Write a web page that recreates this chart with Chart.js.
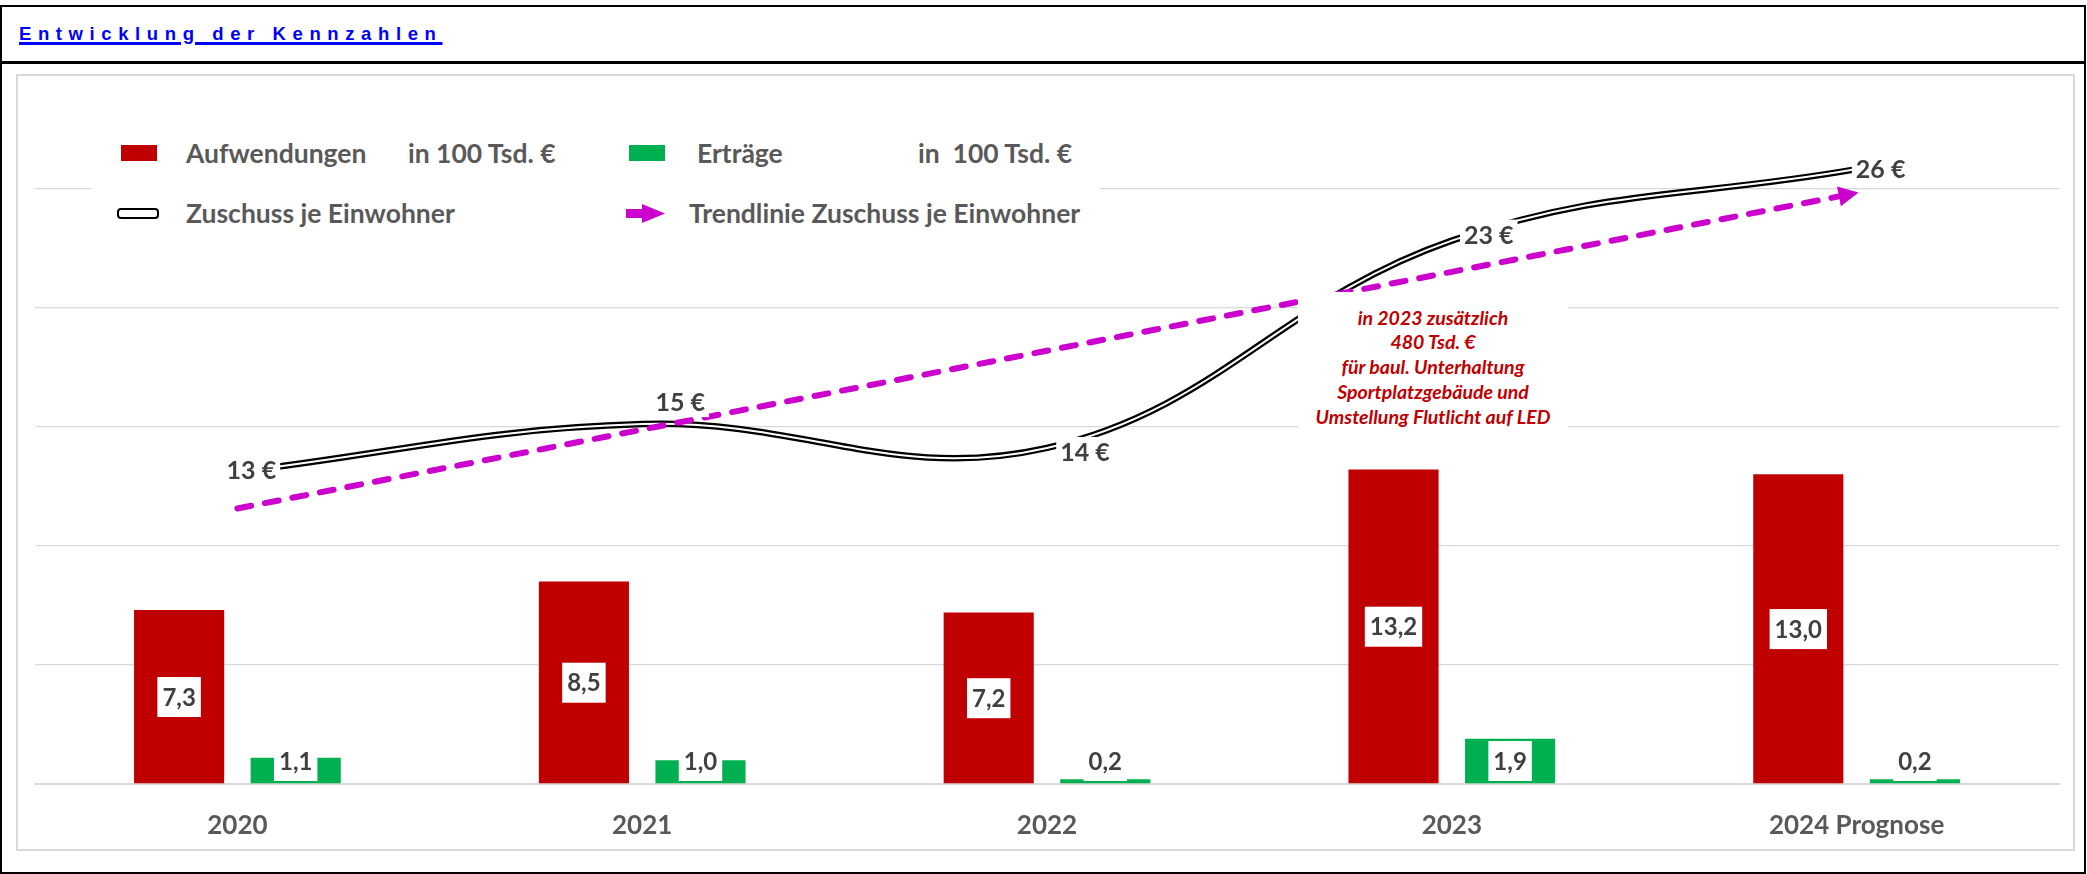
<!DOCTYPE html>
<html lang="de">
<head>
<meta charset="utf-8">
<title>Entwicklung der Kennzahlen</title>
<script src="https://cdn.jsdelivr.net/npm/chart.js@4.4.1/dist/chart.umd.min.js"></script>
<style>
    html, body { margin: 0; padding: 0; background: #fff; }
    body { width: 2087px; height: 874px; position: relative; overflow: hidden; font-family: Lato, "Open Sans", sans-serif; }
    .rahmen { position: absolute; left: 0; top: 5px; width: 2086px; height: 869px; box-sizing: border-box; border: 2px solid #000; }
    .trenner { position: absolute; left: 0; top: 61px; width: 2086px; height: 3px; background: #000; }
    .titel { position: absolute; left: 19px; top: 24px; font: bold 18.5px/20px "Liberation Sans", Arial, sans-serif; letter-spacing: 6.6px;
             color: #0000ff; text-decoration: underline; text-decoration-thickness: 2.7px; text-underline-offset: 2.3px; white-space: nowrap; }
    .diagrammrahmen { position: absolute; left: 16px; top: 74px; width: 2059px; height: 777px; box-sizing: border-box; border: 2px solid #d9d9d9; }
    #wrap { position: absolute; left: 0; top: 0; width: 2087px; height: 874px; }
    .legende { position: absolute; left: 91px; top: 108px; width: 1009px; height: 135px; background: #fff; }
    .lg { position: absolute; font-weight: bold; font-size: 26.5px; line-height: 30px; color: #595959; white-space: pre; }
    .key { position: absolute; box-sizing: border-box; }
    .doppel { border: 2.5px solid #000; border-radius: 4px; background: #fff; }
    .hinweis { position: absolute; left: 1298px; top: 292px; width: 270px; height: 140px; box-sizing: border-box; padding-top: 13.5px;
               background: #fff; color: #c00000; font-style: italic; font-weight: bold; font-size: 19.5px; line-height: 24.75px; text-align: center; white-space: nowrap; }
</style>
</head>
<body>
<div class="rahmen"></div>
<div class="trenner"></div>
<div class="titel">Entwicklung der Kennzahlen</div>
<div class="diagrammrahmen"></div>

<div id="wrap"><canvas id="kennzahlen"></canvas></div>

<div class="legende"></div>
<div class="key" style="left:121px;top:145px;width:36px;height:16px;background:#c00000"></div>
<div class="lg" style="left:186px;top:138px">Aufwendungen</div>
<div class="lg" style="left:408px;top:138px">in 100 Tsd. €</div>
<div class="key" style="left:629px;top:145px;width:36px;height:16px;background:#00b050"></div>
<div class="lg" style="left:697px;top:138px">Erträge</div>
<div class="lg" style="left:918px;top:138px">in  100 Tsd. €</div>
<div class="key doppel" style="left:117px;top:208px;width:42px;height:11px"></div>
<div class="lg" style="left:186px;top:198px">Zuschuss je Einwohner</div>
<svg style="position:absolute;left:626px;top:204px" width="39" height="19"><polygon points="0,5 16,5 16,0 39,9.5 16,19 16,14 0,14" fill="#cc00cc"/></svg>
<div class="lg" style="left:689px;top:198px">Trendlinie Zuschuss je Einwohner</div>

<div class="hinweis">in 2023 zusätzlich<br>480 Tsd. €<br>für baul. Unterhaltung<br>Sportplatzgebäude und<br>Umstellung Flutlicht auf LED</div>

<script>
// Werte
const jahre = ['2020', '2021', '2022', '2023', '2024 Prognose']
const aufwendungen = [7.3, 8.5, 7.2, 13.2, 13.0]   // in 100 Tsd. €
const ertraege = [1.1, 1.0, 0.2, 1.9, 0.2]          // in 100 Tsd. €
const zuschuss = [13.1, 15.1, 14.1, 22.8, 25.8]     // € je Einwohner

// lineare Trendlinie (kleinste Quadrate) wie in Excel
function trendlinie(werte) {
    const n = werte.length
    const mx = (n - 1) / 2
    const my = werte.reduce((a, b) => a + b, 0) / n
    let z = 0, q = 0
    werte.forEach((v, i) => { z += (i - mx) * (v - my); q += (i - mx) * (i - mx) })
    const m = z / q
    return werte.map((v, i) => my + m * (i - mx))
}

// Lage der €-Beschriftungen relativ zum Punkt
const zuschussVersatz = [[14, -2], [38, -22], [38, 4], [37, -6], [24, 0]]

Chart.defaults.font.family = 'Lato'

const beschriftung = {
    id: 'beschriftung',
    afterDatasetsDraw(chart) {
        const ctx = chart.ctx
        const basis = chart.scales.y.getPixelForValue(0)
        ctx.save()

        // Pfeilspitze der Trendlinie
        const tp = chart.getDatasetMeta(4).data
        const a = tp[tp.length - 2], b = tp[tp.length - 1]
        const w = Math.atan2(b.y - a.y, b.x - a.x)
        ctx.translate(b.x, b.y)
        ctx.rotate(w)
        ctx.beginPath()
        ctx.moveTo(2, 0)
        ctx.lineTo(-18, -10)
        ctx.lineTo(-18, 10)
        ctx.closePath()
        ctx.fillStyle = '#cc00cc'
        ctx.fill()
        ctx.setTransform(1, 0, 0, 1, 0, 0)

        ctx.textAlign = 'center'
        ctx.textBaseline = 'middle'

        // Säulenwerte
        ctx.font = 'bold 24px Lato'
        for (let d = 0; d < 2; d++) {
            chart.getDatasetMeta(d).data.forEach((bar, i) => {
                const text = chart.data.datasets[d].data[i].toFixed(1).replace('.', ',')
                const bw = ctx.measureText(text).width + 10
                const mitte = Math.min((bar.y + basis) / 2, basis - 23)
                ctx.fillStyle = '#fff'
                ctx.fillRect(bar.x - bw / 2, mitte - 20, bw, 40)
                ctx.fillStyle = '#404040'
                ctx.fillText(text, bar.x, mitte + 1)
            })
        }

        // Zuschuss je Einwohner
        ctx.font = 'bold 25px Lato'
        chart.getDatasetMeta(2).data.forEach((p, i) => {
            const text = Math.round(zuschuss[i]) + ' €'
            const x = p.x + zuschussVersatz[i][0]
            const y = p.y + zuschussVersatz[i][1]
            const bw = ctx.measureText(text).width + 8
            ctx.fillStyle = '#fff'
            ctx.fillRect(x - bw / 2, y - 15, bw, 30)
            ctx.fillStyle = '#404040'
            ctx.fillText(text, x, y + 1)
        })
        ctx.restore()
    }
}

const grafik = new Chart(document.getElementById('kennzahlen'), {
    type: 'bar',
    data: {
        labels: jahre,
        datasets: [
            {
                label: 'Aufwendungen in 100 Tsd. €',
                data: aufwendungen,
                backgroundColor: '#c00000',
                categoryPercentage: 0.576,
                barPercentage: 0.773,
                order: 3
            },
            {
                label: 'Erträge in 100 Tsd. €',
                data: ertraege,
                backgroundColor: '#00b050',
                categoryPercentage: 0.576,
                barPercentage: 0.773,
                order: 3
            },
            {
                type: 'line',
                label: 'Zuschuss je Einwohner',
                data: zuschuss,
                borderColor: '#000',
                borderWidth: 6.5,
                tension: 0.4,
                pointRadius: 0,
                order: 2
            },
            {
                type: 'line',
                label: 'Zuschuss je Einwohner (innen)',
                data: zuschuss,
                borderColor: '#fff',
                borderWidth: 2,
                tension: 0.4,
                pointRadius: 0,
                order: 1
            },
            {
                type: 'line',
                label: 'Trendlinie Zuschuss je Einwohner',
                data: trendlinie(zuschuss),
                borderColor: '#cc00cc',
                borderWidth: 6,
                borderDash: [14, 14],
                borderCapStyle: 'round',
                tension: 0,
                pointRadius: 0,
                order: 0
            }
        ]
    },
    options: {
        responsive: true,
        maintainAspectRatio: false,
        animation: false,
        layout: { padding: { left: 35, right: 28, top: 69, bottom: 0 } },
        plugins: {
            legend: { display: false },
            tooltip: { enabled: false }
        },
        scales: {
            x: {
                grid: { display: false, drawTicks: false },
                border: { color: '#d9d9d9', width: 2 },
                ticks: { color: '#595959', font: { size: 26, weight: 'bold' }, padding: 26 },
                afterFit: s => { s.height = 90 }
            },
            y: {
                min: 0,
                max: 30,
                ticks: { stepSize: 5, display: false },
                border: { display: false },
                grid: {
                    drawTicks: false,
                    lineWidth: 1.3,
                    color: c => c.tick.value === 30 ? 'rgba(0,0,0,0)' : '#d9d9d9'
                },
                afterFit: s => { s.width = 0 }
            }
        }
    },
    plugins: [beschriftung]
})
</script>
</body>
</html>
